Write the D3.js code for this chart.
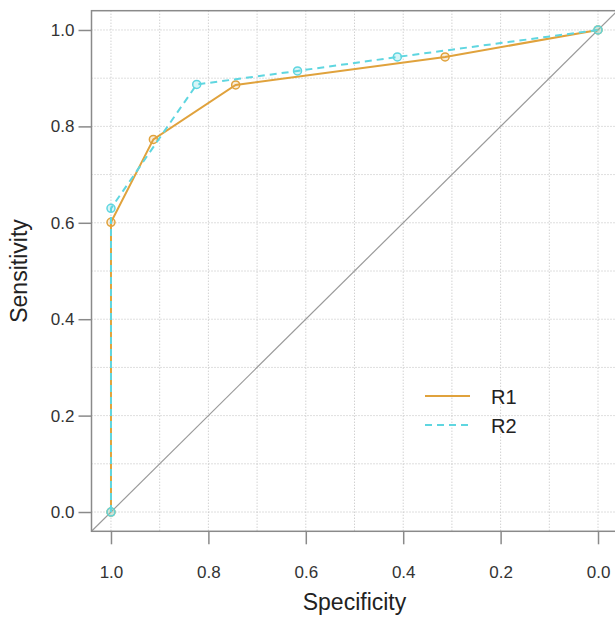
<!DOCTYPE html>
<html>
<head>
<meta charset="utf-8">
<script src="https://cdn.jsdelivr.net/npm/d3@7"></script>
<style>
  body { margin: 0; background: #fff; }
  svg { display: block; font-family: "Liberation Sans", Arial, sans-serif; }
</style>
</head>
<body>
<div id="roc"></div>
<script>
// ROC data
var specR1 = [1.0, 1.0, 0.913, 0.744, 0.314, 0.0];
var sensR1 = [0.0, 0.601, 0.773, 0.886, 0.944, 1.0];
var specR2 = [1.0, 1.0, 0.824, 0.617, 0.412, 0.0];
var sensR2 = [0.0, 0.630, 0.887, 0.915, 0.944, 1.0];
var seriesNames = ["R1", "R2"];
var tickValues = [0, 0.2, 0.4, 0.6, 0.8, 1.0];
var gridValues = [0, 0.1, 0.2, 0.3, 0.4, 0.5, 0.6, 0.7, 0.8, 0.9, 1.0];

var width = 615, height = 617;
var colR1 = "#e0a23c", colR2 = "#5fd6e0";

var svg = d3.select("#roc").append("svg")
    .attr("width", width)
    .attr("height", height);

// R style axis ranges (4% padding)
var x = d3.scaleLinear().domain([1.04, -0.04]).range([91.5, 617.5]);
var y = d3.scaleLinear().domain([-0.04, 1.04]).range([531.3, 10.7]);

// grid
svg.append("g").selectAll("line.vg")
    .data(gridValues).enter().append("line")
    .attr("x1", function(d) { return x(d); })
    .attr("x2", function(d) { return x(d); })
    .attr("y1", y(1.04)).attr("y2", y(-0.04))
    .style("stroke", "#bdbdbd").style("stroke-dasharray", "1,2");

svg.append("g").selectAll("line.hg")
    .data(gridValues).enter().append("line")
    .attr("y1", function(d) { return y(d); })
    .attr("y2", function(d) { return y(d); })
    .attr("x1", x(1.04)).attr("x2", x(-0.04))
    .style("stroke", "#bdbdbd").style("stroke-dasharray", "1,2");

// diagonal
svg.append("line")
    .attr("x1", x(1.04)).attr("y1", y(-0.04))
    .attr("x2", x(-0.04)).attr("y2", y(1.04))
    .style("stroke", "#9a9a9a").style("stroke-width", 1.2);

// box
svg.append("rect")
    .attr("x", x(1.04)).attr("y", y(1.04))
    .attr("width", x(-0.04) - x(1.04))
    .attr("height", y(-0.04) - y(1.04))
    .style("fill", "none").style("stroke", "#8a8a8a").style("stroke-width", 1.5);

// axes
var xAxis = d3.axisBottom(x).tickValues(tickValues).tickSize(13).tickPadding(22)
    .tickFormat(d3.format(".1f"));
var gx = svg.append("g").attr("transform", "translate(0," + y(-0.04) + ")").call(xAxis);
gx.select(".domain").remove();

var yAxis = d3.axisLeft(y).tickValues(tickValues).tickSize(13).tickPadding(4)
    .tickFormat(d3.format(".1f"));
var gy = svg.append("g").attr("transform", "translate(" + x(1.04) + ",0)").call(yAxis);
gy.select(".domain").remove();

svg.selectAll(".tick line").style("stroke", "#8a8a8a").style("stroke-width", 1.5);
svg.selectAll(".tick text")
    .style("font-size", "17px")
    .style("fill", "#333")
    .style("font-family", "Liberation Sans, Arial, sans-serif");

// axis titles
svg.append("text")
    .attr("x", (x(1.04) + x(-0.04)) / 2)
    .attr("y", 610)
    .attr("text-anchor", "middle")
    .style("font-size", "23px")
    .style("fill", "#222")
    .text("Specificity");

svg.append("text")
    .attr("transform", "translate(27," + (y(1.04) + y(-0.04)) / 2 + ") rotate(-90)")
    .attr("text-anchor", "middle")
    .style("font-size", "23px")
    .style("fill", "#222")
    .text("Sensitivity");

// curves
var line = d3.line()
    .x(function(d) { return x(d[0]); })
    .y(function(d) { return y(d[1]); });

var ptsR1 = d3.zip(specR1, sensR1);
var ptsR2 = d3.zip(specR2, sensR2);

svg.append("path")
    .attr("d", line(ptsR1))
    .style("fill", "none").style("stroke", colR1).style("stroke-width", 2);

svg.selectAll("circle.r1")
    .data(ptsR1).enter().append("circle")
    .attr("cx", function(d) { return x(d[0]); })
    .attr("cy", function(d) { return y(d[1]); })
    .attr("r", 4)
    .style("fill", colR1).style("fill-opacity", 0.2)
    .style("stroke", colR1).style("stroke-width", 1.5);

svg.append("path")
    .attr("d", line(ptsR2))
    .style("fill", "none").style("stroke", colR2).style("stroke-width", 2)
    .style("stroke-dasharray", "7,5");

svg.selectAll("circle.r2")
    .data(ptsR2).enter().append("circle")
    .attr("cx", function(d) { return x(d[0]); })
    .attr("cy", function(d) { return y(d[1]); })
    .attr("r", 4)
    .style("fill", colR2).style("fill-opacity", 0.25)
    .style("stroke", colR2).style("stroke-width", 1.5);

// legend
var legY = [396, 425];
var legend = svg.append("g");
legend.selectAll("line")
    .data(seriesNames).enter().append("line")
    .attr("x1", 425).attr("x2", 470)
    .attr("y1", function(d, i) { return legY[i]; })
    .attr("y2", function(d, i) { return legY[i]; })
    .style("stroke", function(d, i) { return i === 0 ? colR1 : colR2; })
    .style("stroke-width", 2)
    .style("stroke-dasharray", function(d, i) { return i === 0 ? null : "7,5"; });

legend.selectAll("text")
    .data(seriesNames).enter().append("text")
    .attr("x", 491)
    .attr("y", function(d, i) { return legY[i] + 7.5; })
    .style("font-size", "20px")
    .style("fill", "#222")
    .text(function(d) { return d; });
</script>
</body>
</html>
